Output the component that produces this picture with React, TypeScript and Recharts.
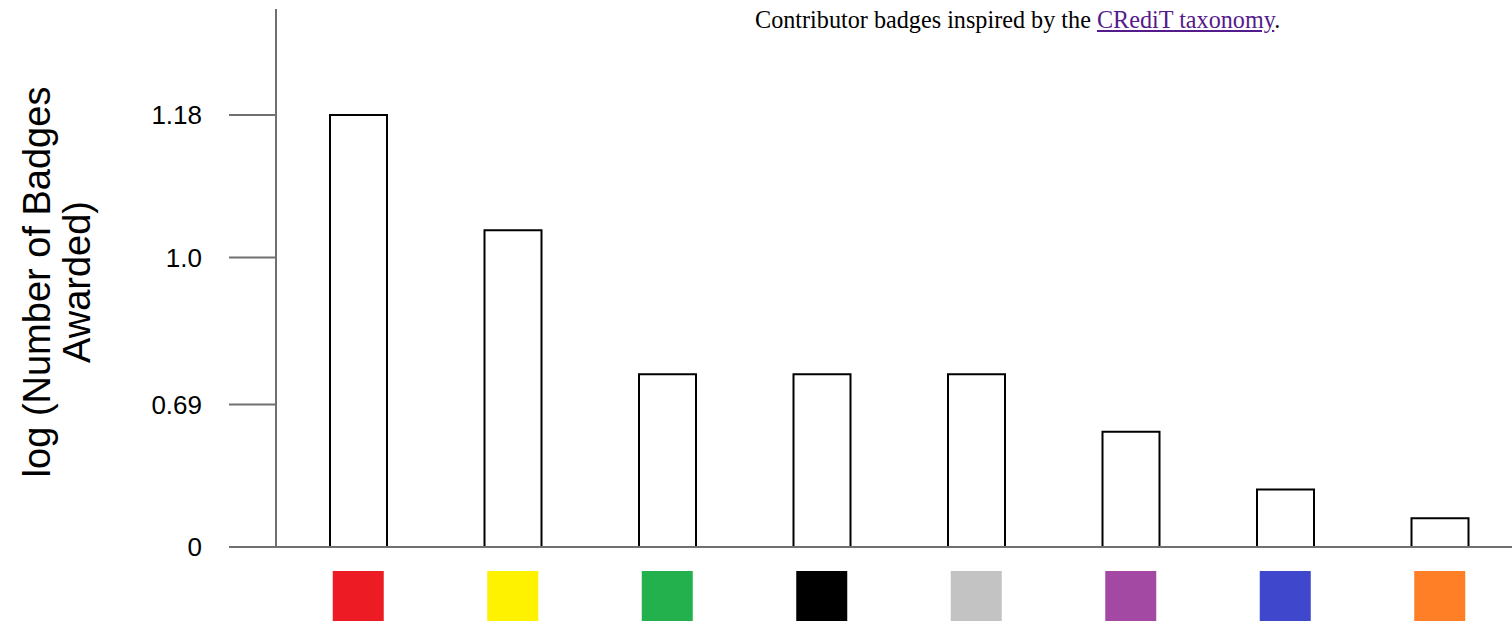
import { Bar, BarChart, XAxis, YAxis } from "recharts";

// badge categories, in drawing order (named after their swatch colour)
const badges = ["red", "yellow", "green", "black", "grey", "purple", "blue", "orange"];
const badgeColors = ["#ED1C24", "#FFF200", "#22B14C", "#000000", "#C3C3C3", "#A349A4", "#3F48CC", "#FF7F27"];

// bar heights in axis units (1.18 tick = 3)
const badgeHeights = [3.0, 2.2, 1.2, 1.2, 1.2, 0.8, 0.4, 0.2];

// the y axis is hand-labelled: tick positions and their printed labels
const tickPositions = [0, 0.99, 2.01, 3.0];
const tickLabels = ["0", "0.69", "1.0", "1.18"];

const data = badges.map((name, i) => ({ name, value: badgeHeights[i] }));

const sans = "'Liberation Sans', Arial, sans-serif";

function ColorTick(props: any) {
  const { x, y, payload } = props;
  const i = badges.indexOf(payload.value);
  return <rect x={x - 25.5} y={y + 24} width={51} height={51} fill={badgeColors[i]} />;
}

function YTitle() {
  return (
    <text
      x={50}
      y={282}
      transform="rotate(-90 50 282)"
      textAnchor="middle"
      fontFamily={sans}
      fontSize={38}
      fill="#000"
    >
      <tspan x={50} dy={0}>log (Number of Badges</tspan>
      <tspan x={50} dy={40}>Awarded)</tspan>
    </text>
  );
}

export default function App() {
  return (
    <div
      style={{
        position: "absolute",
        left: 0,
        top: 0,
        width: 1512,
        height: 621,
        overflow: "hidden",
        background: "#fff"
      }}
    >
      <div
        style={{
          position: "absolute",
          left: 755,
          top: 8,
          fontFamily: "'Liberation Serif', 'Times New Roman', serif",
          fontSize: 24.2,
          lineHeight: "24px",
          whiteSpace: "nowrap",
          color: "#000"
        }}
      >
        Contributor badges inspired by the{" "}
        <a href="#" style={{ color: "#551A8B", textDecoration: "underline" }}>
          CRediT taxonomy
        </a>
        .
      </div>
      <BarChart width={1517} height={621} data={data} margin={{ top: 9, right: 0, left: 0, bottom: 0 }}>
        <XAxis
          dataKey="name"
          height={74}
          padding={{ left: 5, right: 0 }}
          axisLine={{ stroke: "#707070", strokeWidth: 2 }}
          tickLine={false}
          tickSize={0}
          tickMargin={0}
          interval={0}
          tick={<ColorTick />}
        />
        <YAxis
          type="number"
          width={276}
          domain={[0, 3.736]}
          ticks={tickPositions}
          allowDataOverflow
          interval={0}
          axisLine={{ stroke: "#707070", strokeWidth: 2 }}
          tickLine={{ stroke: "#707070", strokeWidth: 2 }}
          tickSize={47}
          tickMargin={27}
          tick={{ fill: "#000", fontSize: 26, fontFamily: sans }}
          tickFormatter={(v: number) => tickLabels[tickPositions.indexOf(v)] ?? ""}
          label={{ content: () => <YTitle /> }}
        />
        <Bar dataKey="value" barSize={57} fill="#fff" stroke="#000" strokeWidth={2} isAnimationActive={false} />
      </BarChart>
    </div>
  );
}
